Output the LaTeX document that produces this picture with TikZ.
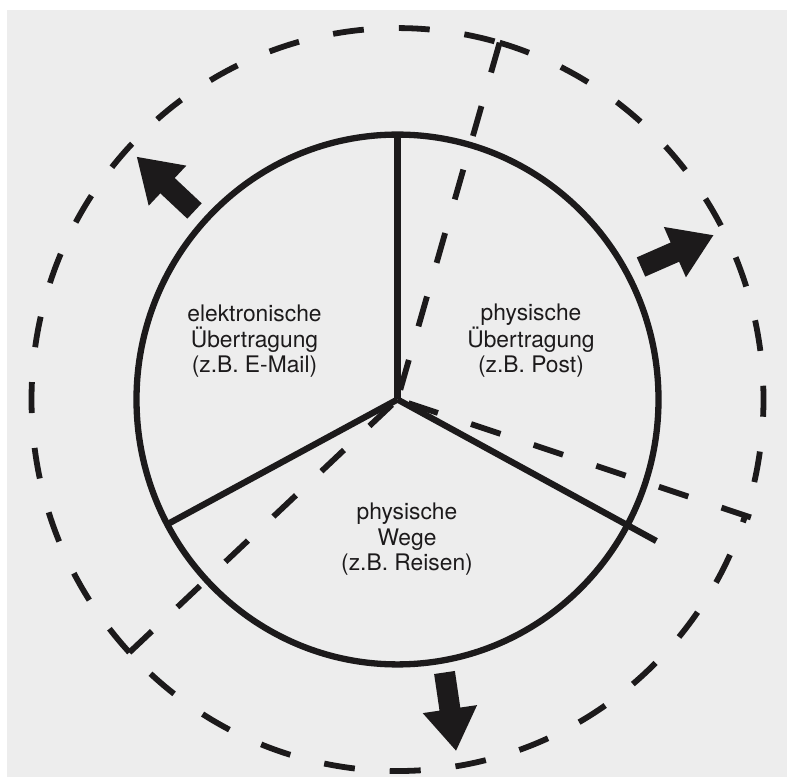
\documentclass[tikz,border=0pt]{standalone}
\usepackage{fontspec}
\setmainfont{TeX Gyre Heros}
\definecolor{ink}{HTML}{1C1A1B}
\definecolor{bg}{HTML}{EDEDED}
\tikzset{
  solidline/.style={draw=ink, line width=6.3pt},
  dashline/.style={draw=ink, line width=5.8pt, dash pattern=on 31pt off 35pt},
  label/.style={anchor=base, align=center, text=ink, inner sep=0pt,
    font=\fontsize{22.8pt}{25.3pt}\selectfont},
  fatarrow/.pic={\fill[ink] (0,-10.5) -- (37,-10.5) -- (37,-27.5) -- (79,0) -- (37,27.5) -- (37,10.5) -- (0,10.5) -- cycle;}
}
\begin{document}
\begin{tikzpicture}[x=1pt,y=1pt]
\useasboundingbox (0,0) rectangle (787,777);
\fill[white] (0,0) rectangle (787,777);
\fill[bg] (7,0) rectangle (787,767);
\begin{scope}[shift={(397.5,377.5)}, yscale=1.015]
  \coordinate (C) at (0,0);
  % dashed rotated sectors
  \coordinate (dT) at (73.8:366);
  \coordinate (dR) at (-18.2:372);
  \coordinate (dL) at (222.9:366);
  \draw[dashline] (dT) arc[start angle=73.8, end angle=-18.2, radius=366];
  \draw[dashline, dash phase=36pt] (dL) arc[start angle=222.9, end angle=341.8, radius=366];
  \draw[dashline] (dL) arc[start angle=222.9, end angle=73.8, radius=366];
  \draw[dashline] (dT) -- (C);
  \draw[dashline] (dR) -- (C);
  \draw[dashline] (dL) -- (C);
  % solid pie
  \draw[solidline] (C) circle[radius=261];
  \coordinate (sT) at (90:261);
  \coordinate (sL) at (208.1:261);
  \coordinate (sR) at (-28.3:294);
  \draw[solidline] (C) -- (sT);
  \draw[solidline] (C) -- (sL);
  \draw[solidline] (C) -- (sR);
\end{scope}
% arrows
\pic[rotate=136.8] at (194.5,566) {fatarrow};
\pic[rotate=23.7] at (641,510) {fatarrow};
\pic[rotate=-81.6] at (444.5,104.5) {fatarrow};
% labels (anchor base = baseline of last line)
\node[label] (tEl) at (254.5,404.4) {elektronische\\Übertragung\\(z.B. E-Mail)};
\node[label] (tPh) at (531,404.4) {physische\\Übertragung\\(z.B. Post)};
\node[label] (tWe) at (407,206.4) {physische\\Wege\\(z.B. Reisen)};
\end{tikzpicture}
\end{document}
